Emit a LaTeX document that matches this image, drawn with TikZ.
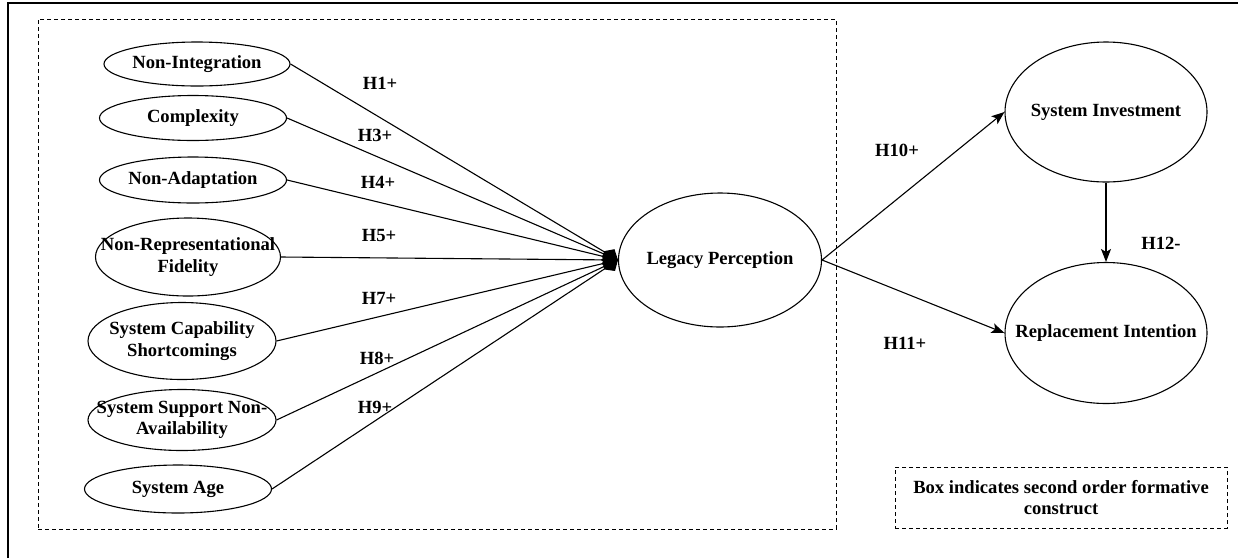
\documentclass[tikz,border=0pt]{standalone}
\usepackage{fontspec}
\setmainfont{Liberation Serif}
\usetikzlibrary{shapes.geometric,arrows.meta}
\newcommand{\diagfont}{\fontsize{18.6}{21.5}\selectfont\bfseries}

\begin{document}
\begin{tikzpicture}[x=1pt,y=-1pt,
  every label/.append style={font=\diagfont, align=center, inner sep=0pt},
  construct/.style={draw, ellipse, line width=1.1pt, inner sep=0pt},
  hyp/.style={font=\diagfont, inner sep=0pt},
  groupbox/.style={draw, rectangle, line width=0.9pt, dash pattern=on 4pt off 3pt, inner sep=0pt},
  frame/.style={line width=1.6pt},
  formative/.style={line width=1.1pt, -{Diamond[length=17pt,width=15pt]}},
  effect/.style={line width=1.1pt, -{Stealth[length=13pt,width=10pt,inset=3pt]}}
]
\useasboundingbox (0,0) rectangle (1238,558);

% outer frame
\draw[frame] (8,558) -- (8,3) -- (1238,3);

% second order formative construct
\node[groupbox, minimum width=798pt, minimum height=510pt] (formbox) at (437,274) {};

% first order dimensions
\node[construct, minimum width=186pt, minimum height=44pt, label=center:{Non-Integration}] (ni) at (197,64) {};
\node[construct, minimum width=187pt, minimum height=45pt, label=center:{Complexity}] (cx) at (193,118) {};
\node[construct, minimum width=187pt, minimum height=46pt, label=center:{Non-Adaptation}] (na) at (193,180) {};
\node[construct, minimum width=185pt, minimum height=78pt, label=center:{Non-Representational\\Fidelity}] (nrf) at (188,257) {};
\node[construct, minimum width=188pt, minimum height=77pt, label=center:{System Capability\\Shortcomings}] (scs) at (182,341) {};
\node[construct, minimum width=188pt, minimum height=61pt, label=center:{System Support Non-\\Availability}] (ssna) at (182,420) {};
\node[construct, minimum width=187pt, minimum height=48pt, label=center:{System Age}] (age) at (178,489) {};

% focal and outcome constructs
\node[construct, minimum width=203pt, minimum height=134pt, label=center:{Legacy Perception}] (lp) at (720,260) {};
\node[construct, minimum width=202pt, minimum height=140pt, label=center:{System Investment}] (si) at (1106,112) {};
\node[construct, minimum width=202pt, minimum height=141pt, label=center:{Replacement Intention}] (ri) at (1106,333) {};

% legend
\node[groupbox, minimum width=332pt, minimum height=61pt,
      label={[font=\diagfont, align=center]center:{Box indicates second order formative\\construct}}] (legend) at (1061,497.5) {};

% formative paths
\draw[formative] (ni.east) -- (lp.west);
\draw[formative] (cx.east) -- (lp.west);
\draw[formative] (na.east) -- (lp.west);
\draw[formative] (nrf.east) -- (lp.west);
\draw[formative] (scs.east) -- (lp.west);
\draw[formative] (ssna.east) -- (lp.west);
\draw[formative] (age.east) -- (lp.west);

% structural paths
\draw[effect] (lp.east) -- (si.west);
\draw[effect] (lp.east) -- (ri.west);
\draw[effect] (si.south) -- (ri.north);

% hypothesis labels
\node[hyp] (h1) at (380,83) {H1+};
\node[hyp] (h3) at (375,135) {H3+};
\node[hyp] (h4) at (378,182) {H4+};
\node[hyp] (h5) at (379,235) {H5+};
\node[hyp] (h7) at (379,298) {H7+};
\node[hyp] (h8) at (377,358) {H8+};
\node[hyp] (h9) at (375,407) {H9+};
\node[hyp] (h10) at (897,150) {H10+};
\node[hyp] (h11) at (905,343) {H11+};
\node[hyp] (h12) at (1161,243) {H12-};
\end{tikzpicture}
\end{document}
